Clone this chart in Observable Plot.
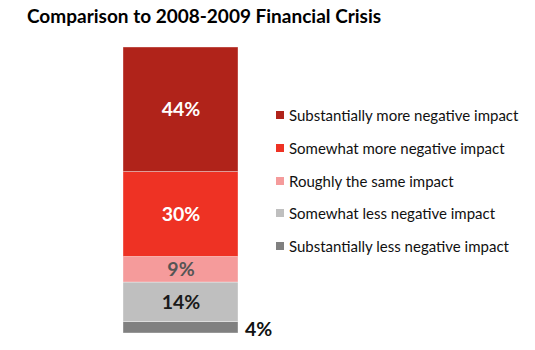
<!DOCTYPE html>
<html>
<head>
<meta charset="utf-8">
<script src="https://cdn.jsdelivr.net/npm/d3@7"></script>
<script src="https://cdn.jsdelivr.net/npm/@observablehq/plot@0.6"></script>
<style>
  html, body { margin: 0; padding: 0; background: #fff; }
  #wrap { position: relative; width: 535px; height: 350px; font-family: Lato, "Open Sans", sans-serif; }
  #title { position: absolute; left: 27px; top: 4px; font-size: 19px; font-weight: bold; color: #000; white-space: nowrap; }
  #chart { position: absolute; left: 0; top: 0; }
  #legend { position: absolute; left: 276px; top: 99px; }
  .item { display: flex; align-items: center; height: 32.7px; font-size: 15px; color: #111; white-space: nowrap; }
  .sw { width: 8px; height: 8px; margin-right: 5px; }
</style>
</head>
<body>
<div id="wrap">
  <div id="title">Comparison to 2008-2009 Financial Crisis</div>
  <div id="chart"></div>
  <div id="legend"></div>
</div>
<script>
// Legend order (top of the bar first)
const categories = [
  "Substantially more negative impact",
  "Somewhat more negative impact",
  "Roughly the same impact",
  "Somewhat less negative impact",
  "Substantially less negative impact"
];
const values = [44, 30, 9, 14, 4];
const colors = ["#B0231A", "#EE3224", "#F59B9B", "#BFBFBF", "#808080"];
const labelColors = ["#ffffff", "#ffffff", "#555555", "#1a1a1a", "#111111"];
const labelInside = [true, true, true, true, false];

// rows stacked from the bottom up
const rows = categories.map((c, i) => ({
  group: "All",
  category: c,
  value: values[i],
  color: colors[i],
  labelColor: labelColors[i],
  inside: labelInside[i]
})).reverse();

const total = d3.sum(values);

const plot = Plot.plot({
  width: 535,
  height: 350,
  marginTop: 47,
  marginBottom: 17,
  marginLeft: 123,
  marginRight: 297,
  x: { type: "band", domain: ["All"], padding: 0, axis: null },
  y: { domain: [0, total], axis: null },
  style: { fontFamily: "Lato, 'Open Sans', sans-serif" },
  marks: [
    Plot.barY(rows, Plot.stackY({
      x: "group", y: "value", fill: d => d.color,
      stroke: "white", strokeWidth: 0.6, strokeOpacity: 0.6
    })),
    Plot.text(rows, Plot.stackY({
      x: "group", y: "value",
      text: d => d.inside ? d.value + "%" : null,
      fill: d => d.labelColor,
      fontSize: 19.5, fontWeight: "bold"
    })),
    Plot.text(rows, Plot.stackY({
      x: "group", y: "value",
      text: d => d.inside ? null : d.value + "%",
      fill: d => d.labelColor,
      fontSize: 19.5, fontWeight: "bold",
      textAnchor: "start", dx: 64, dy: 2
    }))
  ]
});
document.getElementById("chart").appendChild(plot);

const legend = document.getElementById("legend");
categories.forEach((c, i) => {
  const item = document.createElement("div");
  item.className = "item";
  const sw = document.createElement("div");
  sw.className = "sw";
  sw.style.background = colors[i];
  const t = document.createElement("span");
  t.textContent = c;
  item.appendChild(sw);
  item.appendChild(t);
  legend.appendChild(item);
});
</script>
</body>
</html>
